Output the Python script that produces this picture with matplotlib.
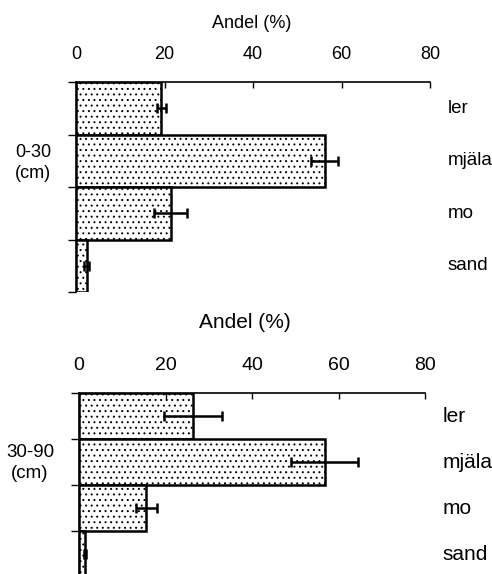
import matplotlib
matplotlib.use("Agg")
import matplotlib.pyplot as plt
import numpy as np

plt.rcParams['font.family'] = ['Liberation Sans', 'DejaVu Sans']
plt.rcParams['hatch.linewidth'] = 0.7

categories = ["ler", "mjäla", "mo", "sand"]
xticks = [0, 20, 40, 60, 80]

depth_top = "0-30\n(cm)"
values_top = [19.3, 56.2, 21.4, 2.4]
errors_top = [1.0, 3.1, 3.7, 0.5]

depth_bottom = "30-90\n(cm)"
values_bottom = [26.3, 56.8, 15.6, 1.4]
errors_bottom = [6.7, 7.8, 2.4, 0.2]

W, H = 492, 574
fig = plt.figure(figsize=(W / 100, H / 100), dpi=100)


def panel(rect_px, values, errors, depth, fs_tick, fs_title, fs_cat, fs_depth,
          title_px, depth_px):
    x0, y0, x1, y1 = rect_px
    ax = fig.add_axes([x0 / W, 1 - y1 / H, (x1 - x0) / W, (y1 - y0) / H])
    ypos = np.arange(len(categories))
    ax.barh(ypos, values, height=1.0, color="white", edgecolor="black",
            linewidth=1.8, hatch="...")
    ax.errorbar(values, ypos, xerr=errors, fmt="none", ecolor="black",
                elinewidth=1.8, capsize=3.5, capthick=1.8)
    ax.set_xlim(0, 80)
    ax.set_ylim(len(categories) - 0.5, -0.5)
    ax.xaxis.tick_top()
    ax.set_xticks(xticks)
    ax.set_xticklabels([str(t) for t in xticks], fontsize=fs_tick)
    ax.tick_params(axis="x", direction="in", length=4, width=1, pad=14)
    ax.set_yticks(np.arange(-0.5, len(categories) + 0.5, 1.0))
    ax.set_yticklabels([])
    ax.tick_params(axis="y", direction="out", length=6, width=1)
    ax.spines["right"].set_visible(False)
    ax.spines["bottom"].set_visible(False)
    ax.spines["top"].set_linewidth(1.2)
    ax.spines["left"].set_linewidth(1.2)
    for yv, name in zip(ypos, categories):
        ax.text(1.05, yv, name, transform=ax.get_yaxis_transform(),
                fontsize=fs_cat, va="center", ha="left")
    fig.text(title_px[0] / W, 1 - title_px[1] / H, "Andel (%)",
             fontsize=fs_title, ha="center", va="center")
    fig.text(depth_px[0] / W, 1 - depth_px[1] / H, depth, fontsize=fs_depth,
             ha="center", va="center", linespacing=1.25)
    return ax


# upper panel: 0-30 cm
panel((76, 82, 430, 292), values_top, errors_top, depth_top,
      fs_tick=13, fs_title=13, fs_cat=13.5, fs_depth=13,
      title_px=(252, 23), depth_px=(33, 163))

# lower panel: 30-90 cm
panel((79, 393, 425, 577), values_bottom, errors_bottom, depth_bottom,
      fs_tick=14, fs_title=15, fs_cat=15, fs_depth=13.5,
      title_px=(245, 322), depth_px=(30, 463))

fig.savefig("out.png", dpi=100)
